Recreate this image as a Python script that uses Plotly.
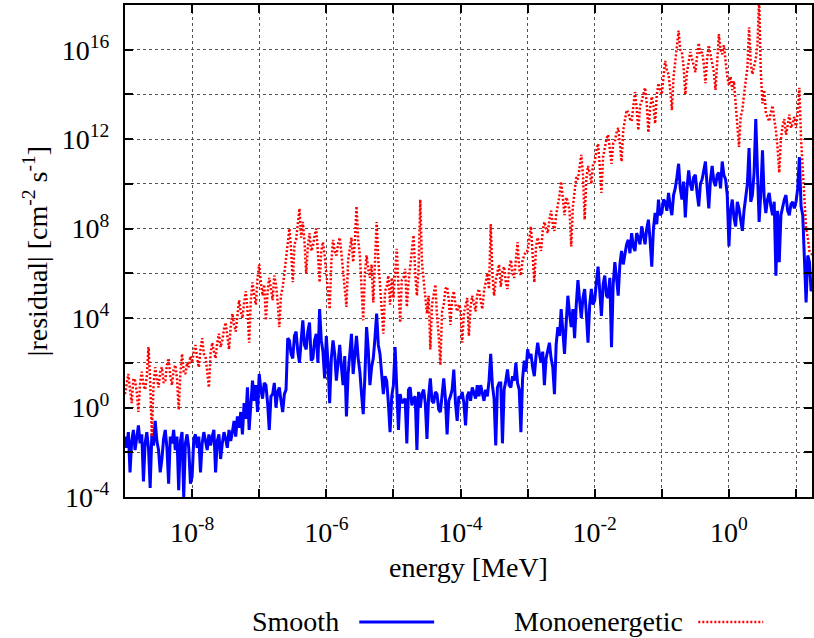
import plotly.graph_objects as go

# log10(energy / MeV) grid shared by both series (step 0.025)
log_energy = [
    -9.000, -8.975, -8.950, -8.925, -8.900, -8.875, -8.850, -8.825, -8.800, -8.775, -8.750, -8.725, -8.700, -8.675, -8.650, -8.625, -8.600, -8.575, -8.550, -8.525,
    -8.500, -8.475, -8.450, -8.425, -8.400, -8.375, -8.350, -8.325, -8.300, -8.275, -8.250, -8.225, -8.200, -8.175, -8.150, -8.125, -8.100, -8.075, -8.050, -8.025,
    -8.000, -7.975, -7.950, -7.925, -7.900, -7.875, -7.850, -7.825, -7.800, -7.775, -7.750, -7.725, -7.700, -7.675, -7.650, -7.625, -7.600, -7.575, -7.550, -7.525,
    -7.500, -7.475, -7.450, -7.425, -7.400, -7.375, -7.350, -7.325, -7.300, -7.275, -7.250, -7.225, -7.200, -7.175, -7.150, -7.125, -7.100, -7.075, -7.050, -7.025,
    -7.000, -6.975, -6.950, -6.925, -6.900, -6.875, -6.850, -6.825, -6.800, -6.775, -6.750, -6.725, -6.700, -6.675, -6.650, -6.625, -6.600, -6.575, -6.550, -6.525,
    -6.500, -6.475, -6.450, -6.425, -6.400, -6.375, -6.350, -6.325, -6.300, -6.275, -6.250, -6.225, -6.200, -6.175, -6.150, -6.125, -6.100, -6.075, -6.050, -6.025,
    -6.000, -5.975, -5.950, -5.925, -5.900, -5.875, -5.850, -5.825, -5.800, -5.775, -5.750, -5.725, -5.700, -5.675, -5.650, -5.625, -5.600, -5.575, -5.550, -5.525,
    -5.500, -5.475, -5.450, -5.425, -5.400, -5.375, -5.350, -5.325, -5.300, -5.275, -5.250, -5.225, -5.200, -5.175, -5.150, -5.125, -5.100, -5.075, -5.050, -5.025,
    -5.000, -4.975, -4.950, -4.925, -4.900, -4.875, -4.850, -4.825, -4.800, -4.775, -4.750, -4.725, -4.700, -4.675, -4.650, -4.625, -4.600, -4.575, -4.550, -4.525,
    -4.500, -4.475, -4.450, -4.425, -4.400, -4.375, -4.350, -4.325, -4.300, -4.275, -4.250, -4.225, -4.200, -4.175, -4.150, -4.125, -4.100, -4.075, -4.050, -4.025,
    -4.000, -3.975, -3.950, -3.925, -3.900, -3.875, -3.850, -3.825, -3.800, -3.775, -3.750, -3.725, -3.700, -3.675, -3.650, -3.625, -3.600, -3.575, -3.550, -3.525,
    -3.500, -3.475, -3.450, -3.425, -3.400, -3.375, -3.350, -3.325, -3.300, -3.275, -3.250, -3.225, -3.200, -3.175, -3.150, -3.125, -3.100, -3.075, -3.050, -3.025,
    -3.000, -2.975, -2.950, -2.925, -2.900, -2.875, -2.850, -2.825, -2.800, -2.775, -2.750, -2.725, -2.700, -2.675, -2.650, -2.625, -2.600, -2.575, -2.550, -2.525,
    -2.500, -2.475, -2.450, -2.425, -2.400, -2.375, -2.350, -2.325, -2.300, -2.275, -2.250, -2.225, -2.200, -2.175, -2.150, -2.125, -2.100, -2.075, -2.050, -2.025,
    -2.000, -1.975, -1.950, -1.925, -1.900, -1.875, -1.850, -1.825, -1.800, -1.775, -1.750, -1.725, -1.700, -1.675, -1.650, -1.625, -1.600, -1.575, -1.550, -1.525,
    -1.500, -1.475, -1.450, -1.425, -1.400, -1.375, -1.350, -1.325, -1.300, -1.275, -1.250, -1.225, -1.200, -1.175, -1.150, -1.125, -1.100, -1.075, -1.050, -1.025,
    -1.000, -0.975, -0.950, -0.925, -0.900, -0.875, -0.850, -0.825, -0.800, -0.775, -0.750, -0.725, -0.700, -0.675, -0.650, -0.625, -0.600, -0.575, -0.550, -0.525,
    -0.500, -0.475, -0.450, -0.425, -0.400, -0.375, -0.350, -0.325, -0.300, -0.275, -0.250, -0.225, -0.200, -0.175, -0.150, -0.125, -0.100, -0.075, -0.050, -0.025,
    0.000, 0.025, 0.050, 0.075, 0.100, 0.125, 0.150, 0.175, 0.200, 0.225, 0.250, 0.275, 0.300, 0.325, 0.350, 0.375, 0.400, 0.425, 0.450, 0.475,
    0.500, 0.525, 0.550, 0.575, 0.600, 0.625, 0.650, 0.675, 0.700, 0.725, 0.750, 0.775, 0.800, 0.825, 0.850, 0.875, 0.900, 0.925, 0.950, 0.975,
    1.000, 1.025, 1.050, 1.075, 1.100, 1.125, 1.150, 1.175, 1.200, 1.225, 1.250,
]

# log10 |residual| read for the "Smooth" series
smooth_log_residual = [
    -1.3, -1.8, -1.1, -2.9, -1.5, -1.0, -1.9, -1.4, -0.8, -1.6, -1.2, -3.3, -1.6, -1.1, -1.8, -3.6, -1.2, -1.7, -0.6, -1.5,
    -1.9, -2.9, -2.3, -1.4, -1.0, -1.8, -3.4, -1.3, -1.6, -1.0, -1.9, -1.3, -3.7, -1.5, -1.1, -4.0, -1.6, -1.2, -1.8, -3.4,
    -3.1, -1.4, -1.2, -1.8, -1.3, -2.9, -1.6, -1.1, -1.5, -1.9, -1.2, -1.7, -1.3, -1.0, -2.9, -1.5, -1.2, -2.3, -1.6, -1.1,
    -1.4, -1.8, -1.0, -1.5, -1.1, -0.6, -1.3, -0.4, -0.9, -0.2, -1.2, 0.2, -0.5, 0.9, -1.0, 0.4, 1.2, 0.3, 1.0, -0.2,
    1.5, 0.8, 0.4, 1.1, 1.0, 0.2, -1.0, 0.5, 0.6, 1.1, 0.0, 0.7, 0.9, 0.3, -0.2, 0.6, 0.8, 3.1, 3.0, 2.4,
    2.2, 3.2, 3.4, 2.5, 2.0, 3.0, 3.9, 2.8, 2.6, 3.4, 3.8, 2.1, 2.2, 3.0, 3.3, 2.0, 4.4, 3.0, 2.5, 1.3,
    3.2, 2.0, 0.2, 2.2, 3.0, 2.4, 1.2, 2.0, 2.8, 1.8, 1.0, 2.3, -0.4, 1.5, 2.6, 3.3, 1.5, 2.4, 3.2, 2.2,
    1.6, 0.6, -0.3, 1.4, 3.6, 2.6, 1.0, 1.8, 2.2, 3.1, 4.2, 2.8, 2.4, 1.5, 0.6, 1.4, 1.2, 0.2, -1.1, 0.5,
    1.0, 2.7, 0.4, -1.0, 0.6, 0.2, 0.3, 0.4, -1.6, 0.8, 0.9, 0.1, 0.4, 0.5, -1.9, 0.7, 0.0, 0.6, 0.8, 0.2,
    -1.4, 0.5, 1.3, 0.3, 0.2, 0.7, 0.6, -0.1, -0.2, 0.5, 1.3, 0.4, -1.2, 0.3, 0.5, 0.8, 1.7, 0.2, -0.6, 0.5,
    0.4, 0.7, 0.2, -0.8, 0.5, 0.7, 0.3, 0.9, 0.6, 0.4, 1.0, 0.5, 1.0, 0.6, 0.3, 0.8, 0.5, 1.2, 2.4, 1.0,
    0.4, -1.7, 0.9, 1.1, 1.1, -1.6, 0.8, 1.2, 1.7, 1.0, 0.9, 1.4, 1.2, 2.0, 1.1, 0.8, -1.1, 1.3, 2.1, 1.6,
    2.6, 2.2, 2.4, 1.8, 1.4, 2.3, 2.9, 2.4, 2.0, 2.5, 1.0, 2.2, 2.6, 2.9, 2.2, 1.8, 0.6, 2.8, 3.6, 3.2,
    4.4, 3.5, 2.4, 3.8, 5.0, 4.2, 3.6, 4.4, 3.1, 4.6, 5.7, 4.8, 4.0, 4.9, 5.3, 4.2, 2.9, 4.6, 5.3, 4.6,
    4.8, 5.6, 6.3, 5.2, 4.1, 5.5, 5.9, 5.0, 4.9, 5.8, 2.7, 5.5, 6.5, 5.8, 5.0, 6.4, 7.0, 6.4, 6.8, 7.3,
    7.5, 6.9, 7.8, 7.2, 7.0, 7.8, 7.6, 7.3, 8.1, 7.6, 7.3, 8.0, 8.4, 7.5, 6.3, 8.0, 8.7, 8.2, 9.3, 8.6,
    8.7, 9.3, 9.2, 8.8, 9.6, 9.0, 8.6, 9.5, 9.8, 10.3, 10.9, 9.8, 9.3, 10.1, 8.5, 9.8, 10.6, 10.0, 9.7, 10.3,
    10.4, 9.6, 9.0, 10.0, 10.2, 10.6, 11.0, 9.9, 8.9, 10.2, 10.8, 10.1, 9.9, 10.4, 10.5, 9.8, 11.0, 10.4, 10.2, 9.5,
    7.2, 8.8, 9.3, 8.5, 8.1, 9.2, 8.9, 8.4, 7.9, 8.8, 9.3, 10.0, 11.6, 9.2, 9.5, 10.5, 12.9, 10.2, 8.3, 9.6,
    11.5, 9.4, 8.7, 9.3, 9.6, 9.0, 8.6, 9.2, 5.9, 8.8, 6.5, 8.6, 9.0, 9.3, 9.5, 8.8, 8.6, 9.1, 9.2, 8.9,
    9.2, 9.8, 11.2, 9.0, 8.6, 7.0, 4.7, 6.8, 6.5, 5.2, 5.5,
]

# log10 |residual| read for the "Monoenergetic" series
mono_log_residual = [
    0.6, 1.0, 1.5, 0.8, 0.2, 1.3, 1.2, 0.7, -0.2, 1.1, 1.6, 1.0, 0.8, 1.4, 2.7, 1.2, -1.3, 1.0, 1.8, 1.3,
    0.9, 1.6, 1.8, 1.1, 1.2, 1.9, 2.2, 1.4, 1.0, 1.7, 1.9, 1.3, -0.1, 1.5, 2.4, 1.6, 1.5, 2.0, 1.8, 2.3,
    2.0, 2.5, 2.8, 2.2, 1.8, 2.6, 3.1, 2.4, 2.3, 1.6, 0.9, 2.4, 2.9, 2.5, 2.2, 2.9, 3.3, 2.7, 3.0, 3.5,
    3.8, 3.2, 2.6, 3.6, 4.2, 3.7, 3.4, 4.1, 4.8, 4.3, 4.0, 4.7, 5.2, 4.4, 2.9, 4.8, 5.6, 5.0, 4.6, 5.8,
    6.4, 5.6, 5.0, 5.5, 3.9, 5.2, 5.8, 5.3, 4.8, 5.9, 5.5, 4.7, 3.6, 5.0, 5.4, 6.0, 6.6, 7.4, 8.0, 7.1,
    5.6, 7.3, 7.5, 8.2, 8.9, 7.6, 8.3, 7.4, 6.0, 7.2, 7.8, 7.0, 7.2, 7.7, 8.0, 6.9, 5.6, 7.0, 7.4, 6.8,
    6.0, 5.3, 4.4, 6.5, 7.5, 7.0, 6.8, 7.3, 7.6, 6.9, 6.0, 5.2, 4.5, 6.6, 7.2, 7.6, 6.5, 7.4, 9.0, 7.5,
    6.8, 5.4, 3.9, 6.0, 6.8, 6.2, 5.8, 6.4, 4.7, 6.5, 8.3, 6.6, 5.6, 4.6, 3.3, 5.2, 5.4, 5.9, 4.6, 5.8,
    4.9, 6.0, 7.1, 5.4, 3.8, 5.7, 5.8, 6.2, 4.5, 5.6, 6.3, 6.8, 7.7, 6.0, 5.0, 6.2, 9.3, 6.5, 5.6, 4.8,
    4.2, 5.0, 2.6, 4.6, 5.0, 5.5, 4.1, 3.2, 1.9, 4.3, 4.6, 5.3, 5.4, 4.8, 3.7, 4.9, 5.2, 4.6, 4.3, 4.6,
    4.4, 2.9, 4.2, 4.6, 4.9, 3.2, 4.5, 5.0, 4.7, 4.3, 5.1, 5.3, 4.8, 4.4, 5.2, 5.6, 6.0, 5.3, 8.2, 6.0,
    5.0, 5.7, 6.0, 6.4, 5.4, 6.1, 6.3, 5.6, 5.3, 6.2, 6.6, 6.0, 5.8, 6.5, 7.4, 6.2, 5.9, 6.6, 6.8, 7.0,
    7.0, 7.5, 8.1, 6.8, 5.6, 7.2, 7.6, 7.3, 7.0, 7.9, 8.3, 8.0, 7.8, 8.4, 8.8, 8.2, 7.9, 8.6, 9.0, 9.5,
    10.1, 9.2, 8.6, 9.4, 9.2, 8.8, 7.2, 9.0, 9.8, 10.3, 10.2, 10.8, 11.3, 10.4, 8.4, 10.2, 10.8, 10.5, 10.0, 10.9,
    11.0, 11.5, 11.8, 10.8, 9.6, 11.2, 11.7, 12.0, 12.2, 11.6, 10.9, 11.8, 11.9, 12.3, 12.5, 11.8, 11.0, 12.4, 12.9, 13.3,
    13.2, 12.9, 12.8, 13.5, 14.1, 13.4, 12.4, 13.5, 13.7, 14.0, 14.3, 13.6, 12.3, 13.4, 13.9, 13.5, 12.7, 14.0, 14.5, 14.2,
    14.0, 14.8, 15.5, 15.1, 14.9, 14.2, 13.3, 14.8, 15.6, 16.2, 16.85, 16.0, 15.9, 15.2, 14.0, 15.0, 15.4, 15.9, 15.6, 15.3,
    15.0, 15.7, 16.3, 15.8, 15.9, 15.4, 14.5, 15.6, 16.2, 15.8, 15.4, 15.0, 14.2, 15.5, 16.7, 16.0, 15.8, 16.2, 15.4, 14.8,
    14.4, 14.8, 14.2, 14.6, 13.6, 12.8, 11.65, 13.0, 13.3, 14.0, 14.5, 15.2, 17.0, 15.4, 14.9, 15.3, 15.6, 16.2, 18.3, 15.0,
    13.6, 14.2, 13.2, 13.0, 12.8, 13.2, 13.5, 12.9, 12.4, 11.6, 10.5, 12.0, 12.6, 12.9, 12.2, 12.6, 13.1, 12.5, 12.7, 13.0,
    12.5, 13.2, 14.3, 12.0, 10.5, 9.2, 8.0, 7.6, 7.0, 6.9, 6.8,
]

series_names = ["Smooth", "Monoenergetic"]

# labelled (major) ticks and unlabelled (minor) ticks, as exponents of ten
x_label_exponents = [-8, -6, -4, -2, 0]
x_tick_labels = ["10<sup>-8</sup>", "10<sup>-6</sup>", "10<sup>-4</sup>", "10<sup>-2</sup>", "10<sup>0</sup>"]
x_minor_exponents = [-7, -5, -3, -1, 1]
y_label_exponents = [-4, 0, 4, 8, 12, 16]
y_tick_labels = ["10<sup>-4</sup>", "10<sup>0</sup>", "10<sup>4</sup>", "10<sup>8</sup>",
                 "10<sup>12</sup>", "10<sup>16</sup>"]
y_minor_exponents = [-2, 2, 6, 10, 14]

x_title = "energy [MeV]"
y_title = "|residual| [cm<sup>-2</sup> s<sup>-1</sup>]"

assert len(log_energy) == len(smooth_log_residual) == len(mono_log_residual)

energy = [10 ** v for v in log_energy]
smooth = [10 ** v for v in smooth_log_residual]
mono = [10 ** v for v in mono_log_residual]

FONT = "Liberation Serif, DejaVu Serif, Times New Roman, serif"
FSIZE = 28
GRID = "#555555"

fig = go.Figure()
fig.add_trace(go.Scatter(x=energy, y=smooth, mode="lines", name=series_names[0],
                         line=dict(color="#0000ff", width=3), showlegend=False))
fig.add_trace(go.Scatter(x=energy, y=mono, mode="lines", name=series_names[1],
                         line=dict(color="#ff0000", width=2.5, dash="2px,2px"), showlegend=False))

axis_common = dict(
    type="log", ticks="inside", ticklen=8, tickwidth=1.5, tickcolor="black",
    showline=True, linecolor="black", linewidth=2, mirror="allticks",
    showgrid=True, gridcolor=GRID, griddash="dot", gridwidth=1, zeroline=False,
    tickfont=dict(family=FONT, size=FSIZE, color="black"),
)

def minor(exps):
    return dict(tickmode="array", tickvals=[10 ** e for e in exps], ticks="inside",
                ticklen=8, tickwidth=1.5, tickcolor="black",
                showgrid=True, gridcolor=GRID, griddash="dot", gridwidth=1)

fig.update_layout(
    width=814, height=638,
    margin=dict(l=125, r=0, t=5, b=141),
    paper_bgcolor="white", plot_bgcolor="white",
    font=dict(family=FONT, size=FSIZE, color="black"),
    xaxis=dict(axis_common, range=[-9, 1.238],
               tickvals=[10 ** e for e in x_label_exponents], ticktext=x_tick_labels,
               minor=minor(x_minor_exponents),
               ticklabelstandoff=9,
               title=dict(text=x_title, standoff=11,
                          font=dict(family=FONT, size=FSIZE, color="black"))),
    yaxis=dict(axis_common, range=[-4, 18],
               tickvals=[10 ** e for e in y_label_exponents], ticktext=y_tick_labels,
               minor=minor(y_minor_exponents),
               ticklabelstandoff=8,
               title=dict(text=y_title, standoff=6,
                          font=dict(family=FONT, size=FSIZE, color="black"))),
    showlegend=False,
)

# gnuplot-style key below the plot: text followed by a line sample
legend_y = -0.254
fig.add_annotation(xref="paper", yref="paper", x=0.315, y=legend_y, text=series_names[0],
                   showarrow=False, xanchor="right", yanchor="middle",
                   font=dict(family=FONT, size=FSIZE, color="black"))
fig.add_shape(type="line", xref="paper", yref="paper", x0=0.341, x1=0.450,
              y0=legend_y, y1=legend_y, line=dict(color="#0000ff", width=3))
fig.add_annotation(xref="paper", yref="paper", x=0.8157, y=legend_y, text=series_names[1],
                   showarrow=False, xanchor="right", yanchor="middle",
                   font=dict(family=FONT, size=FSIZE, color="black"))
fig.add_shape(type="line", xref="paper", yref="paper", x0=0.8345, x1=0.929,
              y0=legend_y, y1=legend_y, line=dict(color="#ff0000", width=2.5, dash="2px,2px"))

fig.write_html("out.html")
